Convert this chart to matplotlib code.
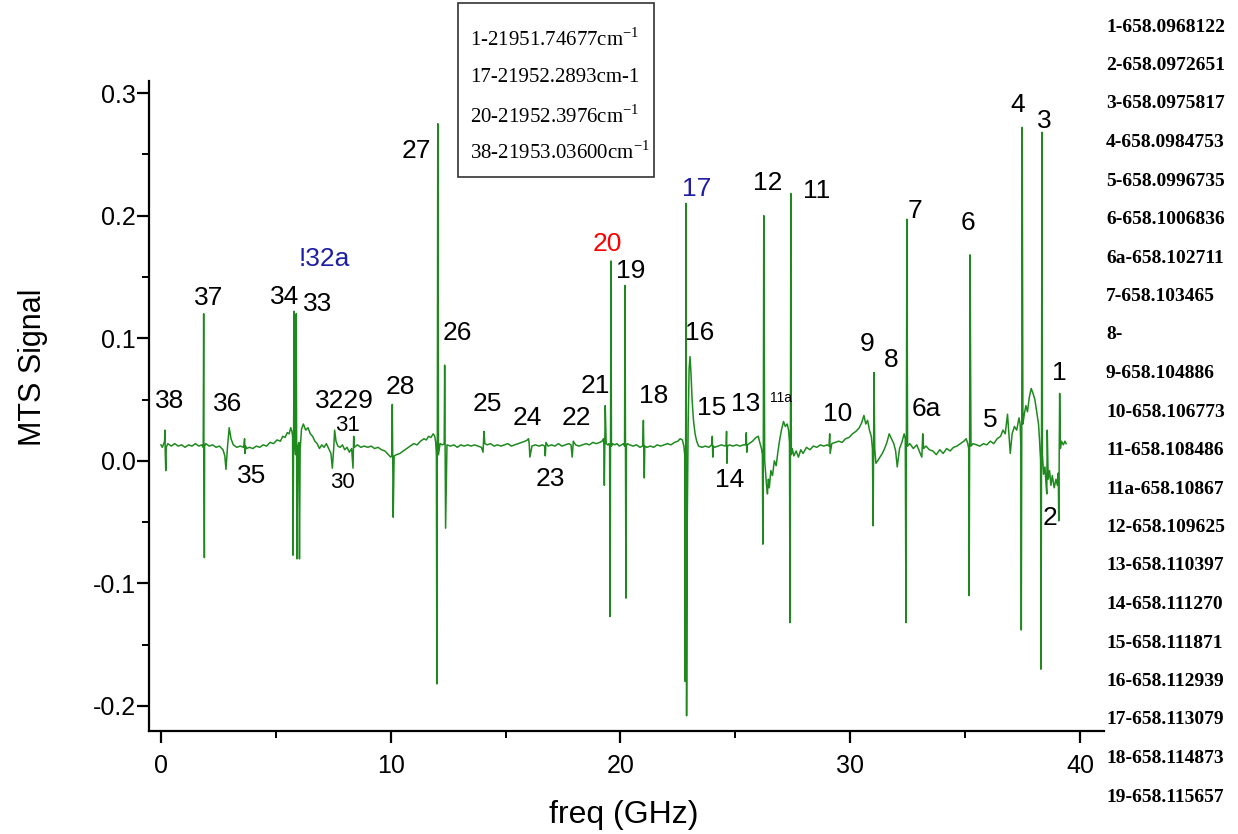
import matplotlib
matplotlib.use('Agg')
import matplotlib.pyplot as plt
from matplotlib.patches import Rectangle

# Traza MTS (freq en GHz, senal)
freq = [0.00, 0.06, 0.12, 0.16, 0.17, 0.19, 0.21, 0.23, 0.30, 0.45,
        0.60, 0.75, 0.90, 1.05, 1.20, 1.35, 1.50, 1.65, 1.78, 1.84,
        1.86, 1.87, 1.89, 1.90, 1.95, 2.10, 2.25, 2.40, 2.55, 2.70,
        2.78, 2.83, 2.90, 2.97, 3.05, 3.15, 3.30, 3.45, 3.60, 3.64,
        3.66, 3.68, 3.72, 3.85, 4.00, 4.15, 4.30, 4.45, 4.60, 4.75,
        4.90, 5.05, 5.20, 5.30, 5.40, 5.50, 5.58, 5.65, 5.70, 5.73,
        5.75, 5.77, 5.80, 5.83, 5.86, 5.89, 5.92, 5.95, 6.00, 6.03,
        6.06, 6.12, 6.20, 6.30, 6.40, 6.50, 6.60, 6.70, 6.80, 6.90,
        7.00, 7.10, 7.20, 7.30, 7.40, 7.46, 7.52, 7.56, 7.62, 7.70,
        7.80, 7.90, 8.00, 8.10, 8.20, 8.30, 8.34, 8.36, 8.39, 8.42,
        8.55, 8.70, 8.85, 9.00, 9.15, 9.30, 9.45, 9.60, 9.75, 9.90,
        10.00, 10.05, 10.07, 10.09, 10.11, 10.15, 10.25, 10.40, 10.55, 10.70,
        10.85, 11.00, 11.15, 11.30, 11.45, 11.55, 11.65, 11.75, 11.85, 11.92,
        11.96, 11.99, 12.01, 12.03, 12.05, 12.08, 12.15, 12.25, 12.33, 12.35,
        12.37, 12.39, 12.45, 12.60, 12.75, 12.90, 13.05, 13.20, 13.35, 13.50,
        13.65, 13.80, 13.95, 14.02, 14.06, 14.10, 14.20, 14.35, 14.50, 14.65,
        14.80, 14.95, 15.10, 15.25, 15.40, 15.55, 15.70, 15.85, 15.95, 16.00,
        16.03, 16.06, 16.15, 16.30, 16.45, 16.60, 16.70, 16.73, 16.76, 16.85,
        17.00, 17.15, 17.30, 17.45, 17.60, 17.75, 17.85, 17.90, 17.95, 18.05,
        18.20, 18.35, 18.50, 18.65, 18.80, 18.95, 19.10, 19.20, 19.26, 19.28,
        19.30, 19.32, 19.34, 19.38, 19.45, 19.50, 19.53, 19.55, 19.57, 19.59,
        19.61, 19.65, 19.75, 19.85, 19.95, 20.05, 20.14, 20.18, 20.20, 20.22,
        20.24, 20.26, 20.30, 20.40, 20.55, 20.70, 20.85, 20.97, 21.00, 21.02,
        21.04, 21.06, 21.15, 21.30, 21.45, 21.60, 21.75, 21.90, 22.05, 22.20,
        22.35, 22.50, 22.60, 22.70, 22.76, 22.80, 22.82, 22.84, 22.86, 22.88,
        22.91, 22.95, 22.99, 23.03, 23.07, 23.12, 23.18, 23.25, 23.32, 23.40,
        23.55, 23.70, 23.85, 23.97, 24.00, 24.02, 24.04, 24.10, 24.25, 24.40,
        24.55, 24.60, 24.62, 24.64, 24.66, 24.75, 24.90, 25.05, 25.20, 25.35,
        25.45, 25.48, 25.50, 25.53, 25.60, 25.75, 25.90, 26.00, 26.08, 26.14,
        26.18, 26.20, 26.22, 26.24, 26.28, 26.32, 26.36, 26.40, 26.44, 26.48,
        26.55, 26.62, 26.70, 26.78, 26.86, 26.94, 27.02, 27.10, 27.18, 27.26,
        27.32, 27.36, 27.38, 27.40, 27.42, 27.44, 27.48, 27.55, 27.65, 27.75,
        27.85, 27.95, 28.10, 28.25, 28.40, 28.55, 28.70, 28.85, 29.00, 29.08,
        29.11, 29.13, 29.20, 29.35, 29.50, 29.65, 29.80, 29.95, 30.10, 30.25,
        30.40, 30.50, 30.60, 30.68, 30.76, 30.84, 30.92, 30.97, 31.00, 31.02,
        31.04, 31.07, 31.12, 31.20, 31.30, 31.40, 31.50, 31.60, 31.70, 31.80,
        31.90, 31.98, 32.05, 32.15, 32.25, 32.35, 32.40, 32.43, 32.45, 32.47,
        32.50, 32.60, 32.75, 32.90, 33.05, 33.12, 33.16, 33.20, 33.30, 33.45,
        33.60, 33.75, 33.90, 34.05, 34.20, 34.35, 34.50, 34.65, 34.80, 34.95,
        35.05, 35.12, 35.16, 35.18, 35.20, 35.22, 35.26, 35.35, 35.50, 35.65,
        35.80, 35.95, 36.10, 36.25, 36.40, 36.55, 36.65, 36.75, 36.85, 36.92,
        36.97, 37.05, 37.15, 37.25, 37.35, 37.40, 37.43, 37.45, 37.47, 37.49,
        37.52, 37.58, 37.65, 37.72, 37.80, 37.88, 37.96, 38.04, 38.12, 38.20,
        38.25, 38.29, 38.31, 38.33, 38.35, 38.37, 38.42, 38.48, 38.53, 38.56,
        38.58, 38.62, 38.68, 38.74, 38.80, 38.88, 38.96, 39.02, 39.06, 39.08,
        39.10, 39.12, 39.15, 39.20, 39.28, 39.35, 39.40]
signal = [0.013, 0.011, 0.014, 0.016, 0.025, 0.004, -0.008, 0.011, 0.014, 0.012,
          0.014, 0.012, 0.013, 0.011, 0.013, 0.012, 0.014, 0.012, 0.013, 0.011,
          0.120, 0.010, -0.079, 0.012, 0.014, 0.012, 0.013, 0.011, 0.012, 0.009,
          0.004, -0.007, 0.012, 0.027, 0.018, 0.013, 0.011, 0.012, 0.011, 0.018,
          0.006, 0.012, 0.010, 0.011, 0.010, 0.012, 0.011, 0.013, 0.012, 0.015,
          0.014, 0.017, 0.016, 0.020, 0.019, 0.023, 0.022, 0.027, 0.024, 0.020,
          -0.077, 0.010, 0.122, 0.015, 0.005, 0.120, -0.080, 0.010, 0.015, -0.080,
          0.010, 0.026, 0.030, 0.025, 0.027, 0.022, 0.020, 0.016, 0.014, 0.010,
          0.013, 0.011, 0.014, 0.010, 0.006, -0.006, 0.010, 0.025, 0.016, 0.012,
          0.011, 0.013, 0.009, 0.011, 0.007, 0.010, 0.000, -0.006, 0.020, 0.011,
          0.013, 0.011, 0.012, 0.011, 0.012, 0.010, 0.011, 0.009, 0.008, 0.005,
          0.003, 0.004, 0.046, 0.004, -0.046, 0.004, 0.005, 0.006, 0.008, 0.010,
          0.012, 0.014, 0.013, 0.016, 0.018, 0.017, 0.020, 0.019, 0.022, 0.020,
          0.015, 0.005, -0.182, 0.010, 0.275, 0.005, 0.014, 0.013, 0.014, 0.078,
          0.010, -0.055, 0.013, 0.012, 0.013, 0.011, 0.013, 0.012, 0.013, 0.012,
          0.013, 0.012, 0.011, 0.007, 0.024, 0.014, 0.013, 0.014, 0.012, 0.013,
          0.012, 0.013, 0.014, 0.012, 0.013, 0.014, 0.015, 0.016, 0.017, 0.018,
          0.014, 0.003, 0.012, 0.013, 0.012, 0.013, 0.012, 0.004, 0.015, 0.012,
          0.013, 0.012, 0.014, 0.012, 0.013, 0.014, 0.013, 0.003, 0.016, 0.013,
          0.012, 0.013, 0.014, 0.013, 0.015, 0.014, 0.015, 0.016, 0.018, 0.012,
          -0.020, 0.012, 0.045, 0.014, 0.013, 0.014, 0.012, -0.127, 0.010, 0.163,
          0.012, 0.014, 0.013, 0.014, 0.012, 0.013, 0.014, 0.012, 0.143, 0.010,
          -0.112, 0.012, 0.014, 0.013, 0.012, 0.013, 0.011, 0.012, 0.033, 0.010,
          -0.014, 0.012, 0.011, 0.012, 0.011, 0.013, 0.012, 0.013, 0.014, 0.013,
          0.015, 0.016, 0.018, 0.017, 0.012, 0.005, -0.180, 0.010, 0.210, -0.208,
          -0.050, 0.030, 0.075, 0.085, 0.072, 0.050, 0.033, 0.022, 0.016, 0.012,
          0.011, 0.012, 0.011, 0.013, 0.020, 0.003, 0.012, 0.011, 0.012, 0.013,
          0.012, 0.013, 0.024, -0.002, 0.012, 0.013, 0.012, 0.013, 0.012, 0.013,
          0.013, 0.023, 0.007, 0.013, 0.014, 0.016, 0.019, 0.020, 0.014, 0.010,
          0.005, -0.068, 0.010, 0.200, 0.000, -0.010, -0.020, -0.027, -0.015, -0.022,
          -0.008, -0.012, 0.000, -0.004, 0.008, 0.018, 0.026, 0.032, 0.028, 0.030,
          0.025, 0.015, -0.132, 0.010, 0.218, 0.005, 0.010, 0.004, 0.008, 0.003,
          0.009, 0.006, 0.011, 0.009, 0.012, 0.011, 0.013, 0.012, 0.013, 0.012,
          0.022, 0.006, 0.014, 0.015, 0.016, 0.015, 0.018, 0.019, 0.022, 0.024,
          0.027, 0.031, 0.037, 0.030, 0.033, 0.025, 0.020, 0.010, -0.053, 0.010,
          0.072, 0.010, -0.002, 0.000, 0.003, 0.006, 0.010, 0.015, 0.022, 0.018,
          0.014, 0.008, -0.005, 0.010, 0.015, 0.022, 0.018, -0.132, 0.015, 0.197,
          0.012, 0.014, 0.010, 0.013, 0.006, 0.003, 0.022, 0.010, 0.012, 0.009,
          0.008, 0.005, 0.009, 0.006, 0.010, 0.008, 0.011, 0.012, 0.014, 0.016,
          0.018, 0.014, 0.010, -0.110, 0.012, 0.168, 0.012, 0.014, 0.013, 0.012,
          0.014, 0.013, 0.016, 0.014, 0.018, 0.020, 0.025, 0.022, 0.038, 0.020,
          0.006, 0.022, 0.028, 0.025, 0.035, 0.030, 0.012, -0.138, 0.020, 0.272,
          0.030, 0.038, 0.045, 0.040, 0.052, 0.059, 0.055, 0.050, 0.040, 0.030,
          0.015, 0.000, -0.170, 0.010, 0.268, 0.005, -0.011, -0.005, -0.020, -0.027,
          0.025, -0.015, -0.008, -0.020, -0.012, -0.022, -0.015, -0.020, -0.010, -0.049,
          0.010, 0.055, 0.010, 0.016, 0.013, 0.016, 0.014]

# Etiquetas de los picos
peak_names = ['38', '37', '36', '35', '34', '33', '!32a', '3229', '31', '30', '28', '27', '26', '25',
              '24', '23', '22', '21', '20', '19', '18', '17', '16', '15', '14', '13', '11a', '12',
              '11', '10', '9', '8', '7', '6a', '6', '5', '4', '3', '2', '1']
peak_x = [0.39, 2.09, 2.92, 3.96, 5.40, 6.83, 7.09, 8.00, 8.14, 7.92, 10.40, 11.10, 12.88, 14.19,
          15.93, 16.97, 18.10, 18.89, 19.41, 20.45, 21.45, 23.32, 23.46, 23.98, 24.76, 25.46, 26.98, 26.41,
          28.55, 29.46, 30.72, 31.77, 32.81, 33.33, 35.12, 36.08, 37.29, 38.47, 38.69, 39.12]
peak_y = [0.049, 0.133, 0.046, -0.012, 0.134, 0.128, 0.165, 0.049, 0.029, -0.018, 0.060, 0.253, 0.104, 0.046,
          0.035, -0.015, 0.035, 0.061, 0.177, 0.155, 0.053, 0.222, 0.104, 0.043, -0.016, 0.046, 0.051, 0.227,
          0.220, 0.038, 0.095, 0.082, 0.204, 0.042, 0.194, 0.033, 0.290, 0.277, -0.047, 0.072]

# Recuadro con los numeros de onda
box_lines = ['1-21951.74677cm$^{\\mathregular{-1}}$', '17-21952.2893cm-1',
             '20-21952.3976cm$^{\\mathregular{-1}}$', '38-21953.03600cm$^{\\mathregular{-1}}$']

# Columna derecha con las longitudes de onda (cortada en el borde como en el original)
wl_lines = ['1-658.0968122', '2-658.0972651', '3-658.0975817', '4-658.0984753', '5-658.0996735',
            '6-658.1006836', '6a-658.102711', '7-658.103465', '8-', '9-658.104886', '10-658.106773',
            '11-658.108486', '11a-658.10867', '12-658.109625', '13-658.110397', '14-658.111270',
            '15-658.111871', '16-658.112939', '17-658.113079', '18-658.114873', '19-658.115657']

W, H = 1238, 834
fig = plt.figure(figsize=(W / 100, H / 100), dpi=100)
ax = fig.add_axes([149 / W, 1 - 731 / H, (1104 - 149) / W, (731 - 81) / H])

ax.plot(freq, signal, color='#1e8a1e', lw=1.1)
ax.set_xlim(-0.52, 41.05)
ax.set_ylim(-0.2204, 0.3098)

for sp in ['top', 'right']:
    ax.spines[sp].set_visible(False)
for sp in ['left', 'bottom']:
    ax.spines[sp].set_linewidth(1.6)

ax.set_xticks([0, 10, 20, 30, 40])
ax.set_xticks([5, 15, 25, 35], minor=True)
ax.set_yticks([-0.2, -0.1, 0.0, 0.1, 0.2, 0.3])
ax.set_yticks([-0.15, -0.05, 0.05, 0.15, 0.25], minor=True)
ax.set_yticklabels(['-0.2', '-0.1', '0.0', '0.1', '0.2', '0.3'])
ax.tick_params(which='major', length=8.5, width=1.6, direction='out', labelsize=18)
ax.tick_params(which='minor', length=5, width=1.4, direction='out')
ax.tick_params(axis='x', pad=8)
ax.tick_params(axis='y', pad=1)
for lab in ax.get_xticklabels() + ax.get_yticklabels():
    lab.set_family('Liberation Sans')

colores = {'!32a': '#1f1fa5', '17': '#1f1fa5', '20': '#ff0000'}
chicos = {'11a': 10, '31': 16, '30': 16}
for name, x, y in zip(peak_names, peak_x, peak_y):
    ax.text(x, y, name, ha='center', va='center', family='Liberation Sans',
            fontsize=chicos.get(name, 19), color=colores.get(name, 'black'))

fig.text(33 / W, 1 - 367 / H, 'MTS Signal', rotation=90, ha='center', va='center',
         family='Liberation Sans', fontsize=22)
fig.text(624 / W, 1 - 815 / H, 'freq (GHz)', ha='center', va='center',
         family='Liberation Sans', fontsize=23)

fig.patches.append(Rectangle((458 / W, 1 - 177 / H), 196 / W, 174 / H, transform=fig.transFigure,
                             fill=False, edgecolor='#333333', lw=1.2))
for i, t in enumerate(box_lines):
    fig.text(470 / W, 1 - [40, 77, 117, 153][i] / H, t, ha='left', va='center',
             family='Liberation Serif', fontsize=15)

for i, t in enumerate(wl_lines):
    fig.text(1106 / W, 1 - (27 + 38.5 * i) / H, t, ha='left', va='center',
             family='Liberation Serif', fontweight='bold', fontsize=14)

plt.savefig('out.png', dpi=100)
plt.close()
